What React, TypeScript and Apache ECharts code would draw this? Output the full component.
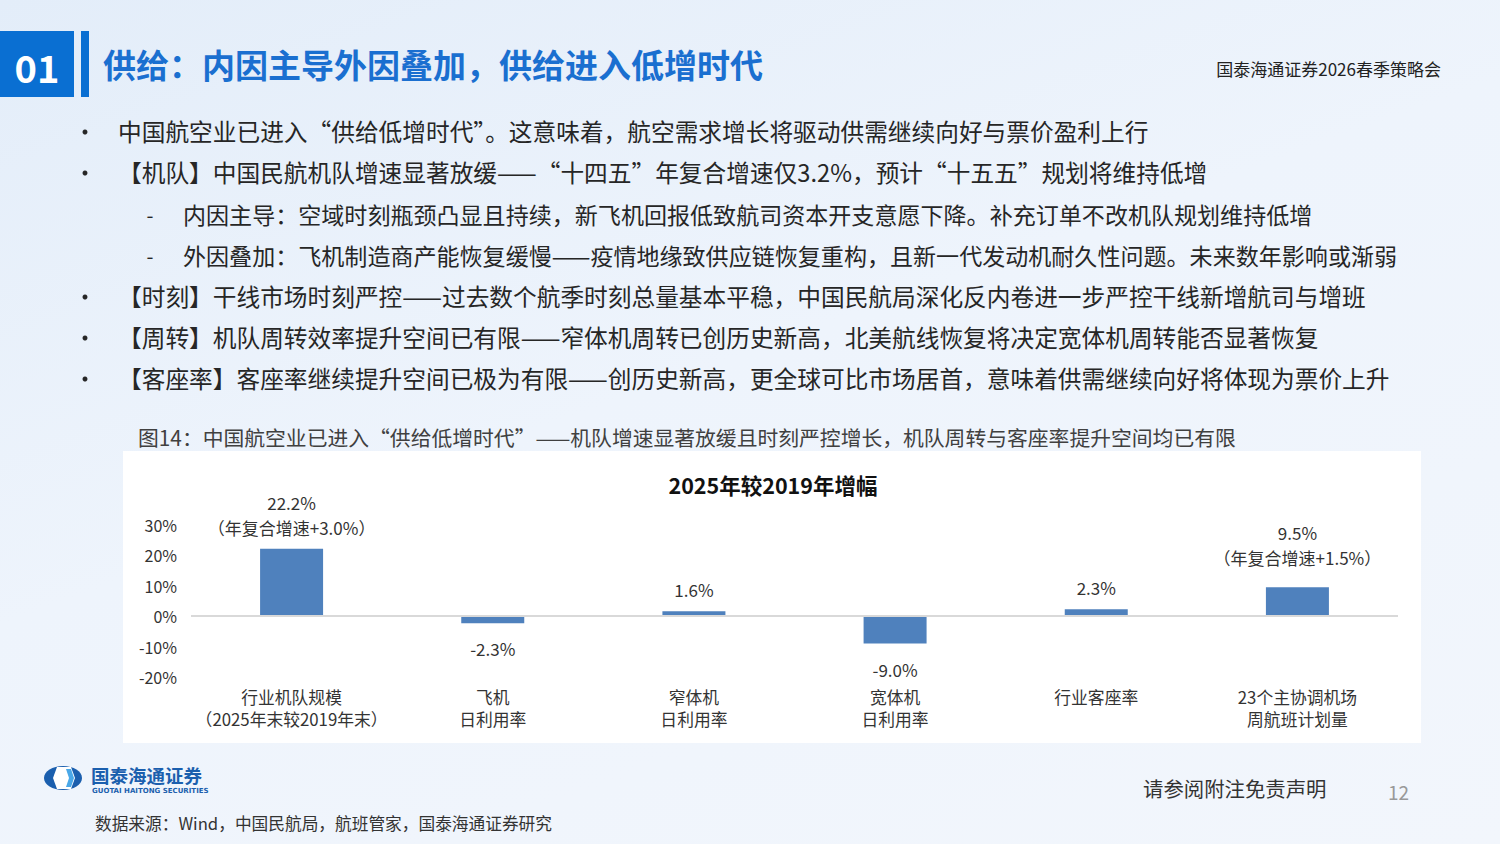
import React, { useEffect, useRef } from 'react';
import * as echarts from 'echarts';

const categories = [
  '行业机队规模\n（2025年末较2019年末）',
  '飞机\n日利用率',
  '窄体机\n日利用率',
  '宽体机\n日利用率',
  '行业客座率',
  '23个主协调机场\n周航班计划量',
];
const growthValues = [22.2, -2.3, 1.6, -9.0, 2.3, 9.5];
const cagrNotes = ['+3.0%', '', '', '', '', '+1.5%'];
const yMin = -20;
const yMax = 30;
const yInterval = 10;

const chartTitle = '2025年较2019年增幅';
const pageTitle = '供给：内因主导外因叠加，供给进入低增时代';
const sectionNo = '01';
const eventName = '国泰海通证券2026春季策略会';
const caption = '图14：中国航空业已进入“供给低增时代”——机队增速显著放缓且时刻严控增长，机队周转与客座率提升空间均已有限';
const sourceNote = '数据来源：Wind，中国民航局，航班管家，国泰海通证券研究';
const disclaimer = '请参阅附注免责声明';
const pageNo = '12';

const bulletLines: { text: string; sub: boolean }[] = [
  { text: '中国航空业已进入“供给低增时代”。这意味着，航空需求增长将驱动供需继续向好与票价盈利上行', sub: false },
  { text: '【机队】中国民航机队增速显著放缓——“十四五”年复合增速仅3.2%，预计“十五五”规划将维持低增', sub: false },
  { text: '内因主导：空域时刻瓶颈凸显且持续，新飞机回报低致航司资本开支意愿下降。补充订单不改机队规划维持低增', sub: true },
  { text: '外因叠加：飞机制造商产能恢复缓慢——疫情地缘致供应链恢复重构，且新一代发动机耐久性问题。未来数年影响或渐弱', sub: true },
  { text: '【时刻】干线市场时刻严控——过去数个航季时刻总量基本平稳，中国民航局深化反内卷进一步严控干线新增航司与增班', sub: false },
  { text: '【周转】机队周转效率提升空间已有限——窄体机周转已创历史新高，北美航线恢复将决定宽体机周转能否显著恢复', sub: false },
  { text: '【客座率】客座率继续提升空间已极为有限——创历史新高，更全球可比市场居首，意味着供需继续向好将体现为票价上升', sub: false },
];
const bulletYs = [131, 172, 214, 255, 296, 337, 378];

const FONT = '"Noto Sans CJK SC", "Noto Sans", sans-serif';

export default function App() {
  const ref = useRef<HTMLDivElement>(null);
  useEffect(() => {
    if (!ref.current) return;
    const chart = echarts.init(ref.current, undefined, { renderer: 'svg' });

    const graphics: any[] = [];
    // white chart panel
    graphics.push({ type: 'rect', z: -10, shape: { x: 123, y: 451, width: 1298, height: 292 }, style: { fill: '#ffffff' } });
    // section number box
    graphics.push({ type: 'rect', shape: { x: 0, y: 31, width: 74, height: 66 }, style: { fill: '#0a6fd2' } });
    graphics.push({ type: 'rect', shape: { x: 81, y: 31, width: 8, height: 66 }, style: { fill: '#0a6fd2' } });
    graphics.push({ type: 'text', style: { text: sectionNo, x: 37, y: 66, align: 'center', verticalAlign: 'middle', fill: '#ffffff', fontSize: 38, fontWeight: 'bold', fontFamily: FONT } });
    graphics.push({ type: 'text', style: { text: pageTitle, x: 103, y: 64, align: 'left', verticalAlign: 'middle', fill: '#1a6fd0', fontSize: 33, fontWeight: 'bold', fontFamily: FONT } });
    graphics.push({ type: 'text', style: { text: eventName, x: 1441, y: 68, align: 'right', verticalAlign: 'middle', fill: '#222222', fontSize: 17, fontFamily: FONT } });

    bulletLines.forEach((b, i) => {
      const y = bulletYs[i];
      if (b.sub) {
        graphics.push({ type: 'text', style: { text: '-', x: 150, y, align: 'center', verticalAlign: 'middle', fill: '#262626', fontSize: 20, fontFamily: FONT } });
        graphics.push({ type: 'text', style: { text: b.text, x: 183, y, align: 'left', verticalAlign: 'middle', fill: '#262626', fontSize: 23.05, fontFamily: FONT } });
      } else {
        graphics.push({ type: 'circle', shape: { cx: 85, cy: y + 1, r: 2.5 }, style: { fill: '#262626' } });
        graphics.push({ type: 'text', style: { text: b.text, x: 118, y, align: 'left', verticalAlign: 'middle', fill: '#262626', fontSize: 23.7, fontFamily: FONT } });
      }
    });

    graphics.push({ type: 'text', style: { text: caption, x: 138, y: 437, align: 'left', verticalAlign: 'middle', fill: '#404040', fontSize: 20.8, fontFamily: FONT } });
    graphics.push({ type: 'text', style: { text: chartTitle, x: 773, y: 484, align: 'center', verticalAlign: 'middle', fill: '#111111', fontSize: 21.5, fontWeight: 'bold', fontFamily: FONT } });

    // logo
    graphics.push({ type: 'ellipse', shape: { cx: 63, cy: 778, rx: 19, ry: 12 }, style: { fill: '#1b5fae' } });
    graphics.push({ type: 'polygon', shape: { points: [[57, 767], [71, 767], [75, 778], [71, 789], [57, 789], [53, 778]] }, style: { fill: '#ffffff' } });
    graphics.push({ type: 'polygon', shape: { points: [[66, 769], [71, 769], [74, 778], [71, 787], [66, 787], [69, 778]] }, style: { fill: '#4aa8e8' } });
    graphics.push({ type: 'text', style: { text: '国泰海通证券', x: 91, y: 775, align: 'left', verticalAlign: 'middle', fill: '#1b5fae', fontSize: 18.5, fontWeight: 'bold', fontFamily: FONT } });
    graphics.push({ type: 'text', style: { text: 'GUOTAI HAITONG SECURITIES', x: 92, y: 791, align: 'left', verticalAlign: 'middle', fill: '#1b5fae', fontSize: 7, fontWeight: 'bold', fontFamily: '"DejaVu Sans", sans-serif' } });
    graphics.push({ type: 'text', style: { text: sourceNote, x: 95, y: 823, align: 'left', verticalAlign: 'middle', fill: '#333333', fontSize: 16.7, fontFamily: FONT } });
    graphics.push({ type: 'text', style: { text: disclaimer, x: 1143, y: 788, align: 'left', verticalAlign: 'middle', fill: '#333333', fontSize: 20.4, fontFamily: FONT } });
    graphics.push({ type: 'text', style: { text: pageNo, x: 1388, y: 791, align: 'left', verticalAlign: 'middle', fill: '#999999', fontSize: 19, fontFamily: FONT } });

    chart.setOption({
      animation: false,
      backgroundColor: 'transparent',
      textStyle: { fontFamily: FONT },
      graphic: { elements: graphics },
      grid: { left: 191, right: 102, top: 525, bottom: 167, containLabel: false },
      xAxis: {
        type: 'category',
        data: categories,
        axisLine: { show: false, onZero: false },
        axisTick: { show: false },
        axisLabel: { color: '#333333', fontSize: 16.8, lineHeight: 22, margin: 9, interval: 0, fontFamily: FONT },
      },
      yAxis: {
        type: 'value',
        min: yMin,
        max: yMax,
        interval: yInterval,
        axisLine: { show: false },
        axisTick: { show: false },
        splitLine: { show: false },
        axisLabel: { color: '#333333', fontSize: 16, margin: 14, formatter: (v: number) => v + '%', fontFamily: FONT },
      },
      series: [
        {
          type: 'bar',
          barWidth: 63,
          itemStyle: { color: '#4f81bd' },
          data: growthValues.map((v, i) => ({
            value: v,
            label: { position: v >= 0 ? 'top' : 'bottom', distance: i === 5 ? 17 : v >= 0 ? 9 : 13 },
          })),
          label: {
            show: true,
            color: '#333333',
            fontSize: 17,
            lineHeight: 25,
            fontFamily: FONT,
            formatter: (p: any) => {
              const note = cagrNotes[p.dataIndex];
              const val = Number(p.value).toFixed(1) + '%';
              return note ? val + '\n（年复合增速' + note + '）' : val;
            },
          },
          markLine: {
            silent: true,
            symbol: 'none',
            label: { show: false },
            lineStyle: { color: '#d9d9d9', width: 2, type: 'solid' },
            data: [{ yAxis: 0 }],
          },
        },
      ],
    });
    return () => chart.dispose();
  }, []);

  return (
    <div
      style={{
        position: 'absolute',
        left: 0,
        top: 0,
        width: 1500,
        height: 844,
        background: 'linear-gradient(160deg, #e3edf9 0%, #eef4fc 45%, #f2f6fc 100%)',
        overflow: 'hidden',
      }}
    >
      <div ref={ref} style={{ width: 1500, height: 844 }} />
    </div>
  );
}
